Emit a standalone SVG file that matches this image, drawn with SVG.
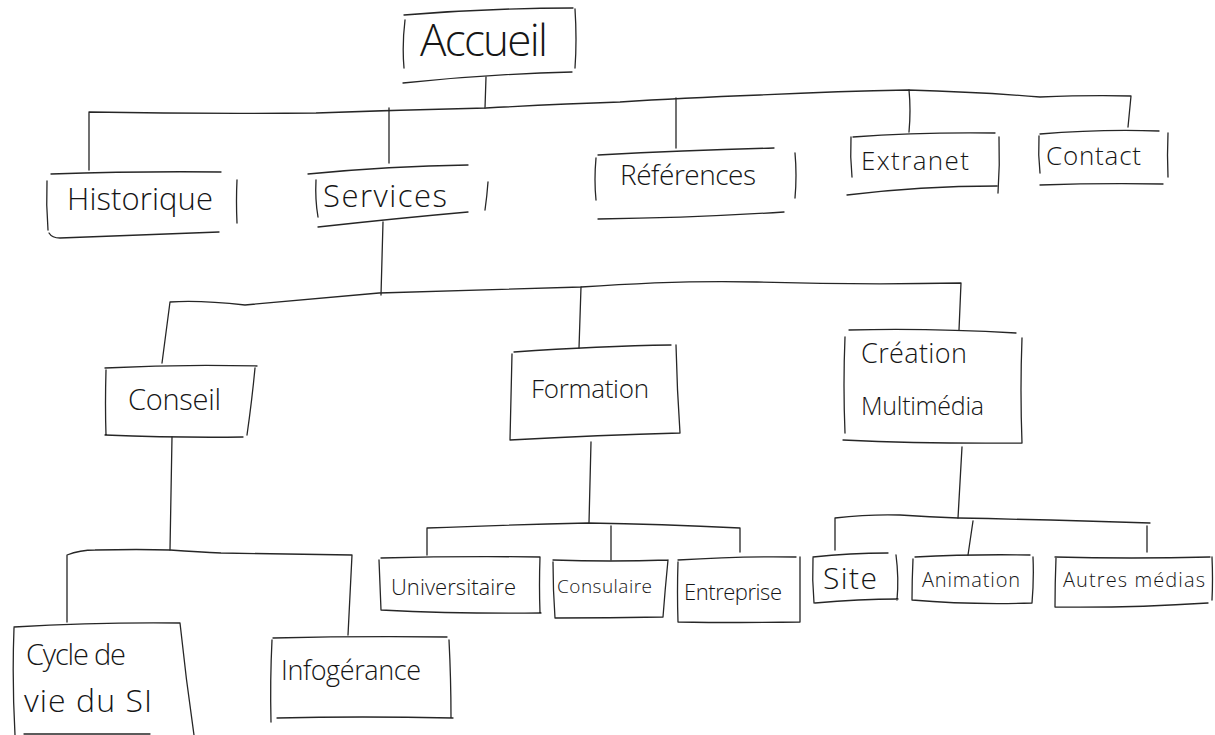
<svg xmlns="http://www.w3.org/2000/svg" width="1215" height="735" viewBox="0 0 1215 735">
  <style>
    .ln { fill: none; stroke: #262626; stroke-width: 1.3; stroke-linecap: round; stroke-linejoin: round; }
    .t { font-family: "Open Sans", "Liberation Sans", sans-serif; font-weight: 300; fill: #161616; }
  </style>
  <rect width="1215" height="735" fill="#ffffff"/>

  <!-- tree links -->
  <g id="connectors" class="ln">
    <!-- Accueil to level 1 -->
    <path d="M486 77 L485 108"/>
    <path d="M89 170 L89 112 Q200 114 316 113 Q400 110 486 108 Q560 104 620 102 Q680 98 760 95 Q840 91 908 90 Q980 92 1040 97 Q1090 95 1131 96 L1128 127"/>
    <path d="M389 108 L389 163"/>
    <path d="M676 98 L676 148"/>
    <path d="M909 90 Q911 110 909 132"/>
    <!-- Services to level 2 -->
    <path d="M383 222 L381 295"/>
    <path d="M162 363 L170 302 Q200 300 245 305 Q320 298 379 293 Q480 290 581 287 Q680 280 757 282 Q860 285 961 283 L959 330"/>
    <path d="M581 287 L579 348"/>
    <!-- Conseil to children -->
    <path d="M172 437 L170 550"/>
    <path d="M67 622 L67 555 Q80 550 95 550 Q140 549 170 550 Q200 552 221 553 Q300 554 352 555 L348 635"/>
    <!-- Formation to children -->
    <path d="M591 442 L589 523"/>
    <path d="M427 555 L427 528 Q500 525 588 523 Q660 524 740 528 L740 552"/>
    <path d="M611 526 L611 560"/>
    <!-- Creation to children -->
    <path d="M962 447 L958 518"/>
    <path d="M835 550 L835 518 Q870 514 900 515 Q930 517 958 518 Q1060 520 1150 523"/>
    <path d="M973 521 L968 555"/>
    <path d="M1147 526 L1147 552"/>
  </g>

  <g id="accueil" class="node">
    <path class="ln" d="M404 15 Q490 8 573 8 M405 20 Q402 45 404 68 M575 9 Q577 40 575 68 M403 83 Q490 74 572 72"/>
    <text class="t" x="420" y="56" font-size="44" textLength="128">Accueil</text>
  </g>

  <g id="historique" class="node">
    <path class="ln" d="M51 174 Q140 171 221 172 M47 181 Q46 205 48 230 M237 180 Q236 200 237 223 M49 233 Q52 238 60 238 Q140 235 219 232"/>
    <text class="t" x="67" y="210" font-size="31" textLength="146">Historique</text>
  </g>

  <g id="services" class="node">
    <path class="ln" d="M308 174 Q390 166 468 165 M316 180 Q315 200 318 217 M488 182 Q487 196 485 210 M318 227 Q400 218 468 212"/>
    <text class="t" x="323" y="207" font-size="31" textLength="124">Services</text>
  </g>

  <g id="references" class="node">
    <path class="ln" d="M598 155 Q690 150 774 148 M596 158 Q594 180 596 200 M795 153 Q797 175 795 198 M598 219 Q690 218 784 212"/>
    <text class="t" x="620" y="185" font-size="28" textLength="136">Références</text>
  </g>

  <g id="extranet" class="node">
    <path class="ln" d="M853 137 Q920 132 995 133 M851 137 Q850 157 852 177 M999 137 Q1000 165 998 193 M847 195 Q920 186 997 186"/>
    <text class="t" x="861" y="170" font-size="26" textLength="108">Extranet</text>
  </g>

  <g id="contact" class="node">
    <path class="ln" d="M1040 134 Q1100 129 1159 131 M1039 136 Q1038 155 1040 173 M1168 133 Q1167 155 1168 177 M1040 185 Q1100 183 1163 184"/>
    <text class="t" x="1046" y="165" font-size="26" textLength="95">Contact</text>
  </g>

  <g id="conseil" class="node">
    <path class="ln" d="M105 368 Q180 364 257 366 M106 370 Q105 405 106 435 M255 368 Q252 400 247 435 M105 435 Q180 438 243 437"/>
    <text class="t" x="128" y="410" font-size="29" textLength="93">Conseil</text>
  </g>

  <g id="formation" class="node">
    <path class="ln" d="M514 352 Q600 346 671 345 M512 354 Q511 400 510 440 M676 345 Q677 390 680 433 M510 440 Q600 435 680 433"/>
    <text class="t" x="531" y="398" font-size="26" textLength="118">Formation</text>
  </g>

  <g id="creation" class="node">
    <path class="ln" d="M849 330 Q930 328 1016 333 M845 337 Q843 385 845 433 M1022 338 Q1020 390 1022 443 M843 440 Q930 444 1022 443"/>
    <text class="t" x="861" y="363" font-size="27" textLength="106">Création</text>
    <text class="t" x="861" y="415" font-size="25" textLength="123">Multimédia</text>
  </g>

  <g id="cycle" class="node">
    <path class="ln" d="M14 627 Q100 622 180 623 M14 628 Q12 680 15 735 M180 623 Q186 680 194 735 M24 734 L150 734"/>
    <text class="t" x="26" y="665" font-size="29" textLength="100">Cycle de</text>
    <text class="t" x="24" y="712" font-size="32" textLength="128">vie du SI</text>
  </g>

  <g id="infogerance" class="node">
    <path class="ln" d="M273 638 Q360 636 447 637 M272 640 Q270 680 271 722 M449 640 Q451 680 451 717 M277 718 Q360 716 453 718"/>
    <text class="t" x="281" y="680" font-size="27" textLength="140">Infogérance</text>
  </g>

  <g id="universitaire" class="node">
    <path class="ln" d="M381 558 Q460 556 540 557 M379 560 Q380 585 381 610 M540 557 Q539 585 540 613 M381 610 Q460 614 541 613"/>
    <text class="t" x="391" y="595" font-size="22" textLength="125">Universitaire</text>
  </g>

  <g id="consulaire" class="node">
    <path class="ln" d="M553 560 Q610 562 668 560 M553 562 Q553 590 555 618 M668 560 Q665 590 663 617 M555 618 Q610 618 663 617"/>
    <text class="t" x="557" y="593" font-size="19" textLength="95">Consulaire</text>
  </g>

  <g id="entreprise" class="node">
    <path class="ln" d="M678 560 Q740 556 796 557 M678 562 Q677 592 678 622 M800 557 Q800 590 800 622 M678 622 Q740 623 800 622"/>
    <text class="t" x="684" y="600" font-size="22" textLength="98">Entreprise</text>
  </g>

  <g id="site" class="node">
    <path class="ln" d="M813 557 Q850 553 888 553 M813 558 Q812 580 814 603 M896 555 Q899 578 897 600 M815 603 Q860 599 898 599"/>
    <text class="t" x="823" y="589" font-size="30" textLength="54">Site</text>
  </g>

  <g id="animation" class="node">
    <path class="ln" d="M915 557 Q970 554 1030 555 M913 559 Q912 580 912 600 M1033 557 Q1034 580 1032 603 M912 600 Q970 605 1032 603"/>
    <text class="t" x="922" y="587" font-size="20" textLength="98">Animation</text>
  </g>

  <g id="autres" class="node">
    <path class="ln" d="M1055 557 Q1130 559 1210 557 M1056 558 Q1055 583 1055 607 M1212 557 Q1213 580 1212 600 M1055 607 Q1130 608 1208 603"/>
    <text class="t" x="1063" y="587" font-size="20" textLength="142">Autres médias</text>
  </g>
</svg>
